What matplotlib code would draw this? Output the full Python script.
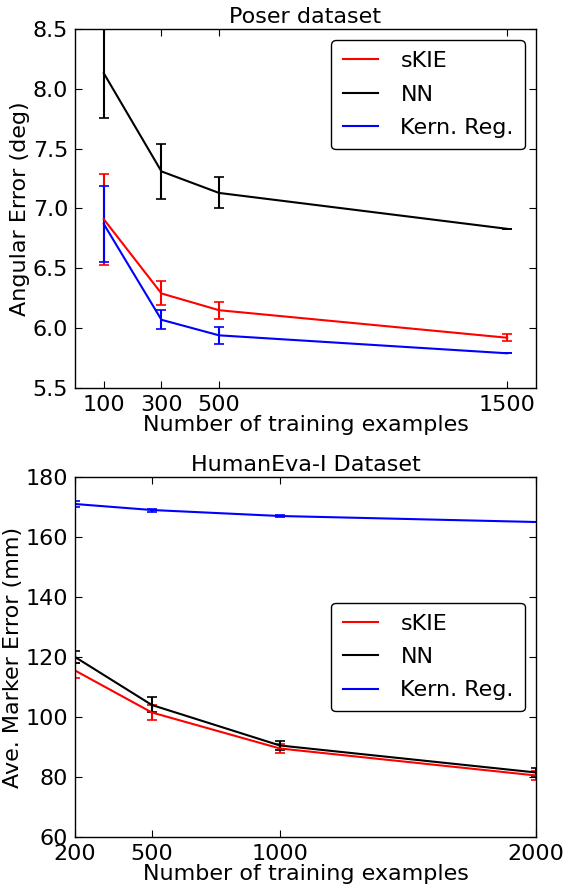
import matplotlib
matplotlib.use("Agg")
import matplotlib.pyplot as plt

# Poser dataset
poser_x = [100, 300, 500, 1500]
poser_skie = [6.91, 6.29, 6.15, 5.92]
poser_skie_err = [0.38, 0.10, 0.07, 0.03]
poser_nn = [8.13, 7.31, 7.13, 6.83]
poser_nn_err = [0.37, 0.23, 0.13, 0.0]
poser_kr = [6.87, 6.07, 5.94, 5.79]
poser_kr_err = [0.32, 0.08, 0.07, 0.0]
poser_xticks = [100, 300, 500, 1500]
poser_yticks = [5.5, 6.0, 6.5, 7.0, 7.5, 8.0, 8.5]

# HumanEva-I dataset
he_x = [200, 500, 1000, 2000]
he_skie = [115.5, 101.5, 89.5, 80.5]
he_skie_err = [2.5, 2.5, 1.5, 1.5]
he_nn = [120.0, 104.0, 90.5, 81.5]
he_nn_err = [2.0, 2.5, 1.5, 1.5]
he_kr = [171.0, 169.0, 167.0, 165.0]
he_kr_err = [1.0, 0.5, 0.3, 0.0]
he_xticks = [200, 500, 1000, 2000]
he_yticks = [60, 80, 100, 120, 140, 160, 180]

labels = ["sKIE", "NN", "Kern. Reg."]
colors = ["red", "black", "blue"]

FS = 16
plt.rcParams['font.family'] = ['DejaVu Sans']
plt.rcParams['font.size'] = FS

fig = plt.figure(figsize=(5.63, 8.84), dpi=100)
ax1 = fig.add_axes([0.1332, 0.5611, 0.8188, 0.4061])
ax2 = fig.add_axes([0.1332, 0.0532, 0.8188, 0.4072])

def style(ax):
    ax.tick_params(direction='in', top=True, right=True, length=5, labelsize=FS, pad=5)
    for s in ax.spines.values():
        s.set_linewidth(1.0)

def legend(ax, **kw):
    h, l = ax.get_legend_handles_labels()
    leg = ax.legend([hh[0] for hh in h], l, fancybox=True, fontsize=FS,
                    handlelength=1.6, handletextpad=1.0, labelspacing=0.6, borderpad=0.5,
                    borderaxespad=0.5, framealpha=1, edgecolor='black', **kw)
    leg.get_frame().set_linewidth(1.0)
    return leg

for ys, es, c, lab in zip([poser_skie, poser_nn, poser_kr],
                          [poser_skie_err, poser_nn_err, poser_kr_err], colors, labels):
    ax1.errorbar(poser_x, ys, yerr=es, color=c, lw=1.5, capsize=3.5, capthick=1.2,
                 elinewidth=1.5, label=lab)
ax1.set_xlim(0, 1600)
ax1.set_ylim(5.5, 8.5)
ax1.set_xticks(poser_xticks)
ax1.set_yticks(poser_yticks)
ax1.set_xlabel("Number of training examples", fontsize=FS, labelpad=0)
ax1.set_ylabel("Angular Error (deg)", fontsize=FS, labelpad=2)
ax1.set_title("Poser dataset", fontsize=FS, pad=4)
style(ax1)
legend(ax1, loc='upper right')

for ys, es, c, lab in zip([he_skie, he_nn, he_kr],
                          [he_skie_err, he_nn_err, he_kr_err], colors, labels):
    ax2.errorbar(he_x, ys, yerr=es, color=c, lw=1.5, capsize=3.5, capthick=1.2,
                 elinewidth=1.5, label=lab)
ax2.set_xlim(200, 2000)
ax2.set_ylim(60, 180)
ax2.set_xticks(he_xticks)
ax2.set_yticks(he_yticks)
ax2.set_xlabel("Number of training examples", fontsize=FS, labelpad=0)
ax2.set_ylabel("Ave. Marker Error (mm)", fontsize=FS, labelpad=2)
ax2.set_title("HumanEva-I Dataset", fontsize=FS, pad=4)
style(ax2)
legend(ax2, loc='center right')

fig.savefig("out.png", dpi=100)
